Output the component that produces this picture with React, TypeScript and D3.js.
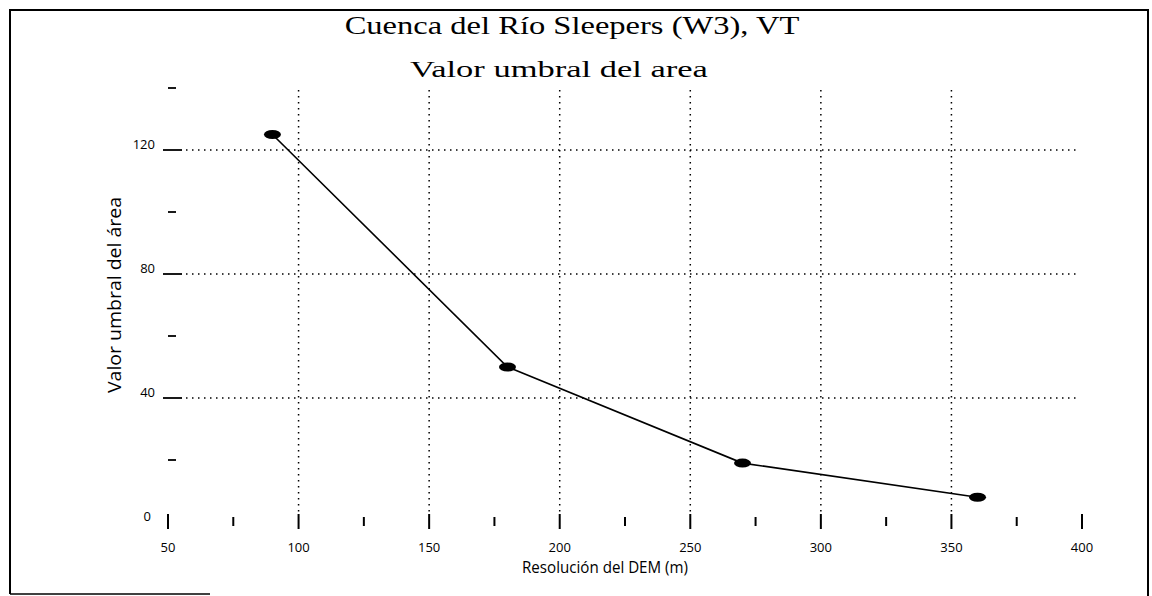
import React, { useEffect, useRef } from "react";
import * as d3 from "d3";

// DEM resolution (m) vs. area threshold value
const resolution = [90, 180, 270, 360];
const threshold = [125, 50, 19, 8];

const xMajorTicks = [50, 100, 150, 200, 250, 300, 350, 400];
const xMinorTicks = [75, 125, 175, 225, 275, 325, 375];
const yMajorTicks = [40, 80, 120];
const yMinorTicks = [20, 60, 100, 140];
const yTickLabels = [0, 40, 80, 120];
const xGrid = [100, 150, 200, 250, 300, 350];
const yGrid = [40, 80, 120];

const width = 1152;
const height = 596;

const App = () => {
  const svgRef = useRef<SVGSVGElement>(null);

  useEffect(() => {
    const svg = d3.select(svgRef.current);
    svg.selectAll("*").remove();

    const x = d3.scaleLinear().domain([50, 400]).range([168, 1082]);
    const y = d3.scaleLinear().domain([0, 140]).range([522, 88]);

    const sans = "'Open Sans', 'DejaVu Sans', sans-serif";
    const serif = "'Liberation Serif', 'Times New Roman', serif";

    // frame (bottom edge only partly visible in the scan)
    const frame = svg.append("g").attr("stroke", "#000").attr("fill", "none");
    frame.append("path").attr("d", "M10,594 L10,10 L1148,10 L1148,596").attr("stroke-width", 2);
    frame.append("line").attr("x1", 10).attr("x2", 210).attr("y1", 594).attr("y2", 594).attr("stroke-width", 1.5);

    // the scan is stretched sideways: scale the text horizontally to fit measured widths
    const stretched = (cx: number, cy: number, size: number, w: number, label: string, family: string) => {
      const g = svg.append("g");
      const t = g.append("text").attr("text-anchor", "middle")
        .attr("font-family", family).attr("font-size", size).text(label);
      const natural = (t.node() as SVGTextElement).getComputedTextLength() || w;
      g.attr("transform", `translate(${cx},${cy}) scale(${w / natural},1)`);
    };
    stretched(572, 34, 26, 455, "Cuenca del Río Sleepers (W3), VT", serif);
    stretched(559, 77, 23, 298, "Valor umbral del area", serif);

    // dotted grid
    const grid = svg.append("g").attr("stroke", "#000").attr("stroke-width", 1.5)
      .attr("stroke-dasharray", "1.5 4.5");
    grid.selectAll(".vg").data(xGrid).join("line")
      .attr("x1", (d) => x(d)).attr("x2", (d) => x(d))
      .attr("y1", y(140) + 2).attr("y2", 514);
    grid.selectAll(".hg").data(yGrid).join("line")
      .attr("x1", 186).attr("x2", 1080)
      .attr("y1", (d) => y(d)).attr("y2", (d) => y(d));

    // y ticks
    const yt = svg.append("g").attr("stroke", "#000").attr("stroke-width", 1.8);
    yt.selectAll(".ymaj").data(yMajorTicks).join("line")
      .attr("x1", 163).attr("x2", 182).attr("y1", (d) => y(d)).attr("y2", (d) => y(d));
    yt.selectAll(".ymin").data(yMinorTicks).join("line")
      .attr("x1", 168).attr("x2", 176).attr("y1", (d) => y(d)).attr("y2", (d) => y(d));
    svg.append("g").selectAll("text").data(yTickLabels).join("text")
      .attr("x", (d) => (d === 0 ? 151 : 155)).attr("y", (d) => y(d) - 4)
      .attr("dominant-baseline", "middle").attr("text-anchor", "end")
      .attr("font-family", sans).attr("font-size", 13).text((d) => d);

    // x ticks
    const xt = svg.append("g").attr("stroke", "#000").attr("stroke-width", 2);
    xt.selectAll(".xmaj").data(xMajorTicks).join("line")
      .attr("x1", (d) => x(d)).attr("x2", (d) => x(d)).attr("y1", 514).attr("y2", 529);
    xt.selectAll(".xmin").data(xMinorTicks).join("line")
      .attr("x1", (d) => x(d)).attr("x2", (d) => x(d)).attr("y1", 517).attr("y2", 526);
    svg.append("g").selectAll("text").data(xMajorTicks).join("text")
      .attr("x", (d) => x(d)).attr("y", 552).attr("text-anchor", "middle")
      .attr("font-family", sans).attr("font-size", 13).text((d) => d);

    // axis titles
    svg.append("text").attr("x", 605).attr("y", 573).attr("text-anchor", "middle")
      .attr("font-family", sans).attr("font-size", 16)
      .attr("textLength", 166).attr("lengthAdjust", "spacingAndGlyphs")
      .text("Resolución del DEM (m)");
    svg.append("text").attr("transform", "translate(121,295) rotate(-90)")
      .attr("text-anchor", "middle").attr("font-family", sans).attr("font-size", 18)
      .attr("textLength", 196).attr("lengthAdjust", "spacingAndGlyphs")
      .text("Valor umbral del área");

    // series
    const pts = resolution.map((r, i) => [r, threshold[i]] as [number, number]);
    const line = d3.line<[number, number]>().x((d) => x(d[0])).y((d) => y(d[1]));
    svg.append("path").datum(pts).attr("d", line).attr("fill", "none")
      .attr("stroke", "#000").attr("stroke-width", 1.6);
    svg.selectAll(".pt").data(pts).join("ellipse")
      .attr("cx", (d) => x(d[0])).attr("cy", (d) => y(d[1]))
      .attr("rx", 8.5).attr("ry", 4.5).attr("fill", "#000");
  }, []);

  return (
    <svg
      ref={svgRef}
      width={width}
      height={height}
      style={{ position: "absolute", left: 0, top: 0, background: "#fff" }}
    />
  );
};

export default App;
